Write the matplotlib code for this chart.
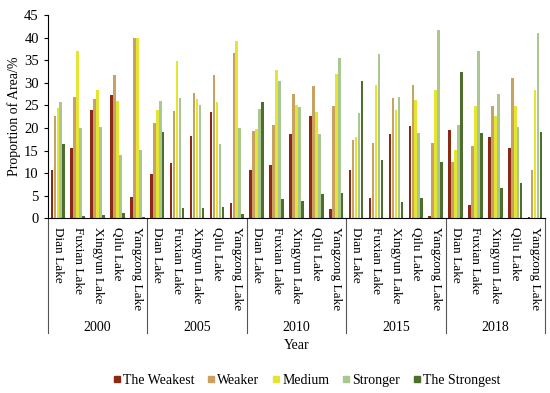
import matplotlib
matplotlib.use("Agg")
import matplotlib.pyplot as plt
import numpy as np
from matplotlib.transforms import blended_transform_factory
from matplotlib.lines import Line2D

years = ['2000', '2005', '2010', '2015', '2018']
lakes = ['Dian Lake', 'Fuxian Lake', 'Xingyun Lake', 'Qilu Lake', 'Yangzong Lake']
series = ['The Weakest', 'Weaker', 'Medium', 'Stronger', 'The Strongest']

weakest = [10.7, 15.5, 24.0, 27.3, 4.8,
           9.7, 12.2, 18.3, 23.6, 3.3,
           10.7, 11.8, 18.6, 22.7, 2.1,
           10.8, 4.6, 18.6, 20.5, 0.5,
           19.5, 2.9, 17.9, 15.6, 0.4]
weaker = [22.7, 26.9, 26.5, 31.7, 40.0,
          21.1, 23.8, 27.7, 31.6, 36.5,
          19.4, 20.6, 27.5, 29.3, 24.9,
          17.3, 16.6, 26.7, 29.6, 16.6,
          12.4, 16.1, 24.8, 31.1, 10.8]
medium = [24.3, 37.0, 28.3, 26.0, 39.8,
          24.0, 34.9, 26.5, 25.7, 39.2,
          19.8, 32.8, 25.0, 23.6, 31.9,
          18.1, 29.6, 24.0, 26.2, 28.4,
          15.1, 24.9, 22.7, 24.8, 28.4]
stronger = [25.7, 20.0, 20.3, 13.9, 15.1,
            26.0, 26.7, 25.1, 16.4, 20.0,
            24.2, 30.4, 24.7, 18.6, 35.5,
            23.2, 36.3, 26.9, 18.8, 41.7,
            20.6, 37.0, 27.5, 20.3, 41.1]
strongest = [16.4, 0.5, 0.8, 1.1, 0.3,
             19.0, 2.2, 2.2, 2.4, 0.95,
             25.7, 4.3, 3.9, 5.3, 5.7,
             30.4, 12.9, 3.5, 4.4, 12.4,
             32.3, 18.9, 6.6, 7.9, 19.0]

data = [weakest, weaker, medium, stronger, strongest]
colors = ['#8B2A14', '#C9A262', '#E4E432', '#A9C78E', '#4E6E2E']

plt.rcParams['font.family'] = ['Liberation Serif', 'DejaVu Serif']
fig = plt.figure(figsize=(5.5, 3.93), dpi=100)
ax = fig.add_axes([0.087, 0.4445, 0.904, 0.5175])

n = len(years) * len(lakes)
x = np.arange(n)
bw = 0.13
step = 0.15
for k, (vals, c) in enumerate(zip(data, colors)):
    ax.bar(x + (k - 2) * step, vals, width=bw, color=c, label=series[k], linewidth=0)

ax.set_xlim(-0.5, n - 0.5)
ax.set_ylim(0, 45)
ax.set_yticks(np.arange(0, 46, 5))
ax.tick_params(axis='y', labelsize=10.5, length=3, direction='out')
ax.set_ylabel('Proportion of Area/%', fontsize=10, labelpad=2)
for s in ['top', 'right']:
    ax.spines[s].set_visible(False)

ax.set_xticks(x)
ax.set_xticklabels(lakes * len(years), rotation=270, fontsize=9.5, va='top', ha='center')
ax.tick_params(axis='x', length=0, pad=6)

trans = blended_transform_factory(ax.transData, ax.transAxes)
for i in range(len(years) + 1):
    xs = i * len(lakes) - 0.5
    ax.add_line(Line2D([xs, xs], [0, -0.565], transform=trans, color='#555555', lw=0.8, clip_on=False))
for i, yr in enumerate(years):
    ax.text(i * len(lakes) + 2, -0.535, yr, transform=trans, ha='center', va='center', fontsize=10)
ax.text(0.5, -0.625, 'Year', transform=ax.transAxes, ha='center', va='center', fontsize=10)

handles = [plt.Line2D([], [], marker='s', linestyle='', color=c, markersize=4) for c in colors]
fig.legend(handles, series, loc='center', bbox_to_anchor=(0.557, 0.033), ncol=5, frameon=False,
           fontsize=10, handletextpad=0.15, columnspacing=0.9, handlelength=0.6)

fig.savefig('out.png', dpi=100)
